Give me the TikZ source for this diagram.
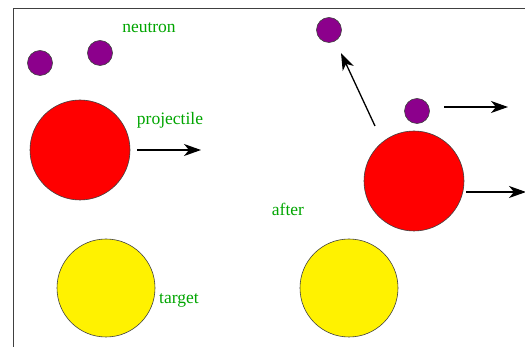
\documentclass[tikz,border=0pt]{standalone}
\usepackage{fontspec}
\setmainfont{Liberation Serif}
\newfontfamily\capfont{Liberation Serif}
\usetikzlibrary{arrows.meta,positioning}
\definecolor{labelgreen}{RGB}{0,165,0}
\definecolor{neutronpurple}{RGB}{140,0,140}
\tikzset{
  ball/.style={circle,draw=black!75,line width=0.6pt,inner sep=0pt},
  neutron/.style={ball,fill=neutronpurple,minimum size=25pt},
  nucleus/.style={ball,fill=red,minimum size=100pt},
  targetball/.style={ball,fill=yellow,minimum size=98pt},
  % green captions
  tag/.style={text=labelgreen,inner sep=0pt,font=\capfont\fontsize{17.5}{20}\selectfont},
  % motion arrows
  motion/.style={line width=1.3pt,-{Stealth[length=17pt,width=12pt,inset=5pt]}},
  frameline/.style={draw=black!75,line width=1pt},
}
\begin{document}
\begin{tikzpicture}[x=1pt,y=-1pt]
\useasboundingbox (0,0) rectangle (525,347);
\draw[frameline] (13,347) -- (13,9) -- (525,9);

%% ---- before ----
\node[neutron] (nA) at (40,63) {};
\node[neutron] (nB) at (100,53) {};
\node[nucleus] (proj) at (80,150) {};
\node[targetball] (targ) at (106,288) {};

\node[tag] (lneutron) at (149,28) {neutron};
\node[tag] (lproj) at (170,120) {projectile};
\node[tag] (ltarg) at (179,300) {target};

\coordinate (projS) at (137,150);
\coordinate (projE) at (201,150);
\draw[motion] (projS) -- (projE);

%% ---- after ----
\node[tag] (lafter) at (288,209) {after};

\node[neutron] (nC) at (329,30) {};
\node[neutron] (nD) at (417,111) {};
\node[nucleus] (projA) at (414,181) {};
\node[targetball] (targA) at (349,288) {};

\coordinate (kickS) at (375,126);
\coordinate (kickE) at (341,53);
\draw[motion] (kickS) -- (kickE);
\coordinate (nDS) at (444,107);
\coordinate (nDE) at (508,107);
\draw[motion] (nDS) -- (nDE);
\coordinate (projAS) at (466,192);
\coordinate (projAE) at (526,192);
\draw[motion] (projAS) -- (projAE);
\end{tikzpicture}
\end{document}
